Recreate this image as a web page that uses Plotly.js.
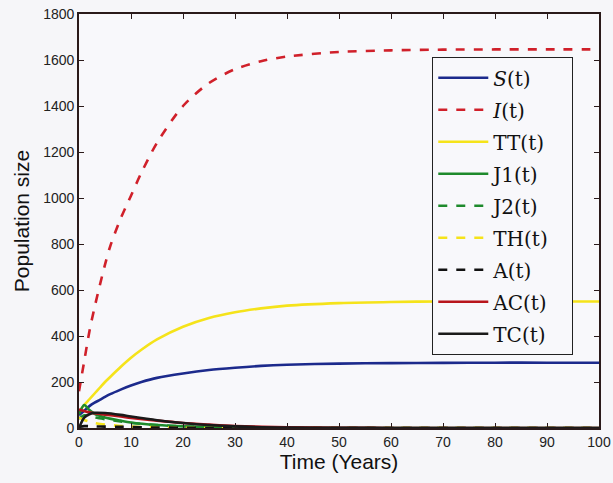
<!DOCTYPE html>
<html><head><meta charset="utf-8">
<script src="https://cdn.plot.ly/plotly-3.0.1.min.js"></script>
<style>body{margin:0;background:#f6f6f9}</style>
</head><body><div id="chart" style="width:613px;height:483px"></div>
<script>
const tBig = [0,1,2,3,4,5,6,8,10,12,15,20,25,30,35,40,50,60,70,80,90,100];
const S_vals  = [55,75,95,110,122,135,147,167,185,200,218,237,252,262,270,275,280,282,283,284,284,284];
const I_vals  = [160,290,420,525,620,710,790,910,1010,1110,1240,1400,1500,1560,1595,1615,1635,1642,1645,1646,1646,1646];
const TT_vals = [70,100,125,150,175,200,222,265,305,340,385,440,478,503,520,532,543,548,550,550,550,550];

const tSmall = [0,1,2,3,5,8,10,15,20,25,30,40,50,60,80,100];
const J1_vals = [60,100,78,62,46,32,24,13,7,4,2,1,0,0,0,0];
const J2_vals = [40,55,52,46,38,28,22,13,7,4,2,1,0,0,0,0];
const TH_vals = [45,35,28,22,15,9,6,3,1,0,0,0,0,0,0,0];
const A_vals  = [5,8,8,7,6,5,4,2,1,0,0,0,0,0,0,0];
const AC_vals = [80,74,68,64,58,50,44,32,22,15,9,3,1,0,0,0];
const TC_vals = [0,45,60,66,65,57,50,34,22,13,7,2,1,0,0,0];

const series = [
  {name:'<i>S</i>(t)', x:tBig, y:S_vals, color:'#1c2a8c', dash:'solid'},
  {name:'<i>I</i>(t)', x:tBig, y:I_vals, color:'#d0202a', dash:'dash'},
  {name:'TT(t)', x:tBig, y:TT_vals, color:'#f5e31a', dash:'solid'},
  {name:'J1(t)', x:tSmall, y:J1_vals, color:'#1e8a2c', dash:'solid'},
  {name:'J2(t)', x:tSmall, y:J2_vals, color:'#1e8a2c', dash:'dash'},
  {name:'TH(t)', x:tSmall, y:TH_vals, color:'#f5e31a', dash:'dash'},
  {name:'A(t)', x:tSmall, y:A_vals, color:'#111111', dash:'dash'},
  {name:'AC(t)', x:tSmall, y:AC_vals, color:'#b8151c', dash:'solid'},
  {name:'TC(t)', x:tSmall, y:TC_vals, color:'#1a1a1a', dash:'solid'}
];

const traces = series.map((s,i)=>({
  x:s.x, y:s.y, name:s.name + '\u00a0\u00a0\u00a0', type:'scatter', mode:'lines',
  legendgroup:'g'+i,
  line:{color:s.color, dash:s.dash, width:2.6, shape:'spline', smoothing:0.8}
}));

const axisCommon = {
  showline:true, linecolor:'#2a1a1a', linewidth:1.8, mirror:'ticks',
  ticks:'inside', ticklen:5, tickcolor:'#2a1a1a', showgrid:false, zeroline:false,
  tickfont:{family:'Liberation Sans, Arial, sans-serif', size:14, color:'#222'}
};

const layout = {
  width:613, height:483,
  paper_bgcolor:'#f6f6f9', plot_bgcolor:'#f8f8fb',
  margin:{l:79, r:14, t:14, b:55},
  showlegend:true,
  legend:{x:0.679, y:0.896, xanchor:'left', yanchor:'top',
    bgcolor:'#f8f8fb', bordercolor:'#222', borderwidth:1.2,
    font:{family:'DejaVu Serif, Liberation Serif, serif', size:20, color:'#111'},
    tracegroupgap:3, itemwidth:50},
  xaxis:Object.assign({}, axisCommon, {range:[0,100], dtick:10,
    title:{text:'Time (Years)', font:{family:'Liberation Sans, Arial, sans-serif', size:21, color:'#111'}, standoff:6}}),
  yaxis:Object.assign({}, axisCommon, {range:[0,1800], dtick:200,
    title:{text:'Population size', font:{family:'Liberation Sans, Arial, sans-serif', size:21, color:'#111'}, standoff:8}})
};

Plotly.newPlot('chart', traces, layout, {displayModeBar:false, staticPlot:true});
</script></body></html>
